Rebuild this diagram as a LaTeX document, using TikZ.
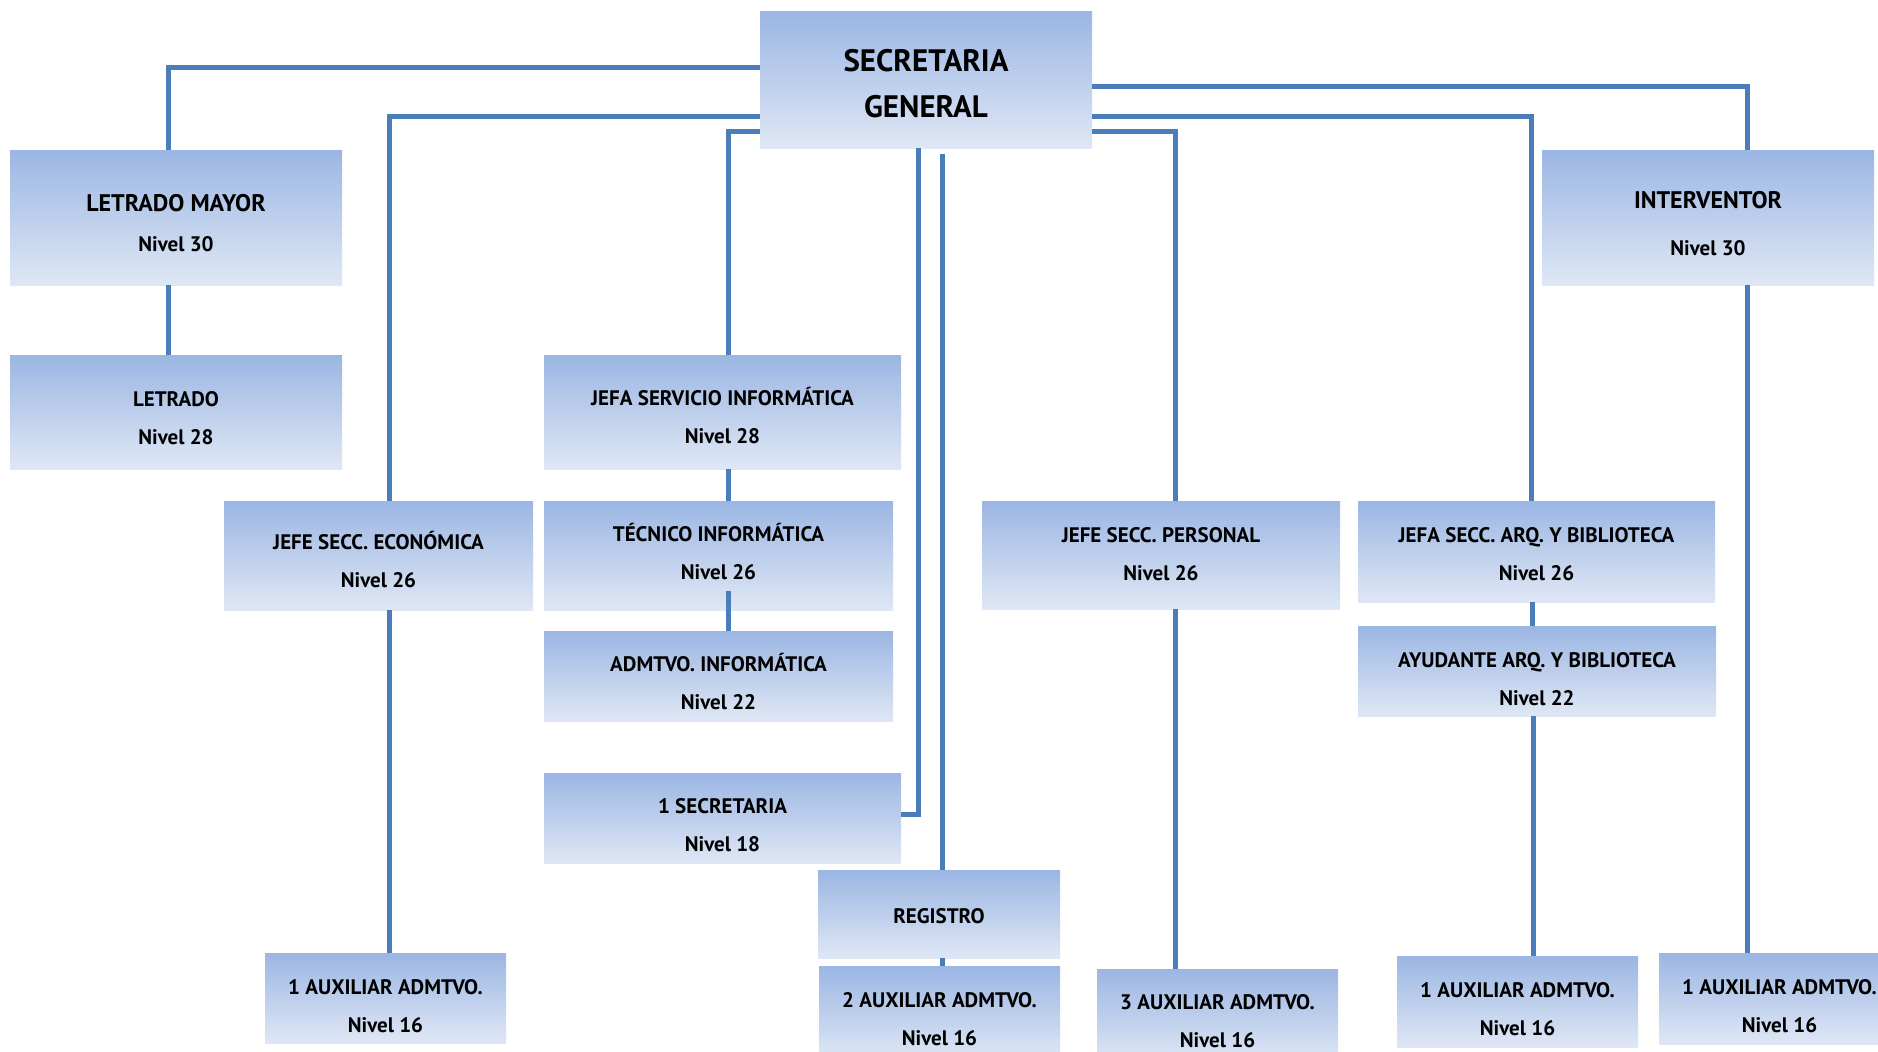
\documentclass[tikz,border=0pt]{standalone}
\usepackage{fontspec}
\newfontfamily\boxfont{PT Sans}
\definecolor{btop}{RGB}{155,182,227}
\definecolor{bbot}{RGB}{223,231,245}
\definecolor{lineblue}{RGB}{74,126,187}
\newcommand\tb[4]{\rule{0pt}{#1}#3\\#4\rule[-#2]{0pt}{#2}}
\tikzset{
  boxbase/.style={rectangle, inner sep=0pt, outer sep=0pt, top color=btop, bottom color=bbot, draw=none, align=center, text=black},
  smallbox/.style={boxbase, font={\boxfont\bfseries\fontsize{10.5}{19}\selectfont}},
  bigbox/.style={boxbase, font={\boxfont\bfseries\fontsize{12}{20}\selectfont}},
  conn/.style={draw=lineblue, line width=2.5pt},
}
\begin{document}
\begin{tikzpicture}[x=0.5pt, y=-0.5pt]
\fill[white] (0,0) rectangle (1878,1051);
\useasboundingbox (0,0) rectangle (1878,1051);

\node[boxbase, font={\boxfont\bfseries\fontsize{15.5}{23}\selectfont}, minimum width=166pt, minimum height=68pt] (sg) at (926,80) {\tb{29.9pt}{15.2pt}{SECRETARIA}{GENERAL}};
\node[bigbox, minimum width=166pt, minimum height=67.5pt] (lm) at (176,217.5) {\tb{30.7pt}{16.8pt}{LETRADO MAYOR}{\fontsize{10.5}{20}\selectfont Nivel 30}};
\node[boxbase, font={\boxfont\bfseries\fontsize{12}{23.5}\selectfont}, minimum width=166pt, minimum height=67.5pt] (int) at (1708,217.5) {\tb{29.2pt}{14.8pt}{INTERVENTOR}{\fontsize{10.5}{23.5}\selectfont Nivel 30}};
\node[smallbox, minimum width=166pt, minimum height=57pt] (let) at (176,412) {\tb{25.8pt}{12.2pt}{LETRADO}{Nivel 28}};
\node[smallbox, minimum width=154.5pt, minimum height=54.5pt] (econ) at (378.5,555.5) {\tb{24.4pt}{11.1pt}{JEFE SECC. ECONÓMICA}{Nivel 26}};
\node[smallbox, minimum width=178.5pt, minimum height=57pt] (jsi) at (722.5,412) {\tb{25.4pt}{12.6pt}{JEFA SERVICIO INFORMÁTICA}{Nivel 28}};
\node[smallbox, minimum width=174.5pt, minimum height=54.5pt] (tec) at (718.5,555.5) {\tb{20.2pt}{15.3pt}{TÉCNICO INFORMÁTICA}{Nivel 26}};
\node[smallbox, minimum width=174.5pt, minimum height=45pt] (adm) at (718.5,676) {\tb{20.3pt}{5.7pt}{ADMTVO. INFORMÁTICA}{Nivel 22}};
\node[smallbox, minimum width=178.5pt, minimum height=45pt] (sec1) at (722.5,818) {\tb{20pt}{6pt}{1 SECRETARIA}{Nivel 18}};
\node[smallbox, minimum width=121pt, minimum height=44pt] (reg) at (939,914) {\rule{0pt}{26.7pt}REGISTRO\rule[-17.3pt]{0pt}{17.3pt}};
\node[smallbox, minimum width=120.5pt, minimum height=47pt] (aux2) at (939.5,1013) {\tb{20.7pt}{7.3pt}{2 AUXILIAR ADMTVO.}{Nivel 16}};
\node[smallbox, minimum width=179pt, minimum height=54pt] (pers) at (1161,555) {\tb{20.7pt}{14.3pt}{JEFE SECC. PERSONAL}{Nivel 26}};
\node[smallbox, minimum width=120.5pt, minimum height=47pt] (aux3) at (1217.5,1016) {\tb{20.2pt}{7.8pt}{3 AUXILIAR ADMTVO.}{Nivel 16}};
\node[smallbox, minimum width=178.5pt, minimum height=50.5pt] (jarq) at (1536.5,551.5) {\tb{20.7pt}{10.8pt}{JEFA SECC. ARQ. Y BIBLIOTECA}{Nivel 26}};
\node[smallbox, minimum width=179pt, minimum height=45pt] (ayu) at (1537,671) {\tb{20.7pt}{5.3pt}{AYUDANTE ARQ. Y BIBLIOTECA}{Nivel 22}};
\node[smallbox, minimum width=120.5pt, minimum height=45.5pt] (aux4) at (1517.5,1001.5) {\tb{20.7pt}{5.8pt}{1 AUXILIAR ADMTVO.}{Nivel 16}};
\node[smallbox, minimum width=120.5pt, minimum height=45.5pt] (aux5) at (1779.5,998.5) {\tb{20.5pt}{6pt}{1 AUXILIAR ADMTVO.}{Nivel 16}};
\node[smallbox, minimum width=120.5pt, minimum height=45pt] (aux1) at (385.5,998) {\tb{20.7pt}{5.3pt}{1 AUXILIAR ADMTVO.}{Nivel 16}};

% connectors from SECRETARIA GENERAL
\draw[conn] (sg.west |- 0,67) -| (lm.north -| 168,0);
\draw[conn] (sg.west |- 0,116) -| (econ.north -| 389,0);
\draw[conn] (sg.west |- 0,131) -| (jsi.north -| 728,0);
\draw[conn] (sg.south -| 918,0) |- (sec1.east |- 0,814);
\draw[conn] ([yshift=-3pt]sg.south -| 942,0) -- (reg.north -| 942,0);
\draw[conn] (sg.east |- 0,86) -| (int.north -| 1747,0);
\draw[conn] (sg.east |- 0,116) -| (jarq.north -| 1531,0);
\draw[conn] (sg.east |- 0,131) -| (pers.north -| 1175,0);
% vertical chains
\draw[conn] (lm.south -| 168,0) -- (let.north -| 168,0);
\draw[conn] (jsi.south -| 728,0) -- (tec.north -| 728,0);
\draw[conn] ([yshift=9.5pt]tec.south -| 728,0) -- (adm.north -| 728,0);
\draw[conn] (econ.south -| 389,0) -- (aux1.north -| 389,0);
\draw[conn] (reg.south -| 942,0) -- (aux2.north -| 942,0);
\draw[conn] (pers.south -| 1175,0) -- (aux3.north -| 1175,0);
\draw[conn] (jarq.south -| 1532,0) -- (ayu.north -| 1532,0);
\draw[conn] (ayu.south -| 1533,0) -- (aux4.north -| 1533,0);
\draw[conn] (int.south -| 1747,0) -- (aux5.north -| 1747,0);
\end{tikzpicture}
\end{document}
